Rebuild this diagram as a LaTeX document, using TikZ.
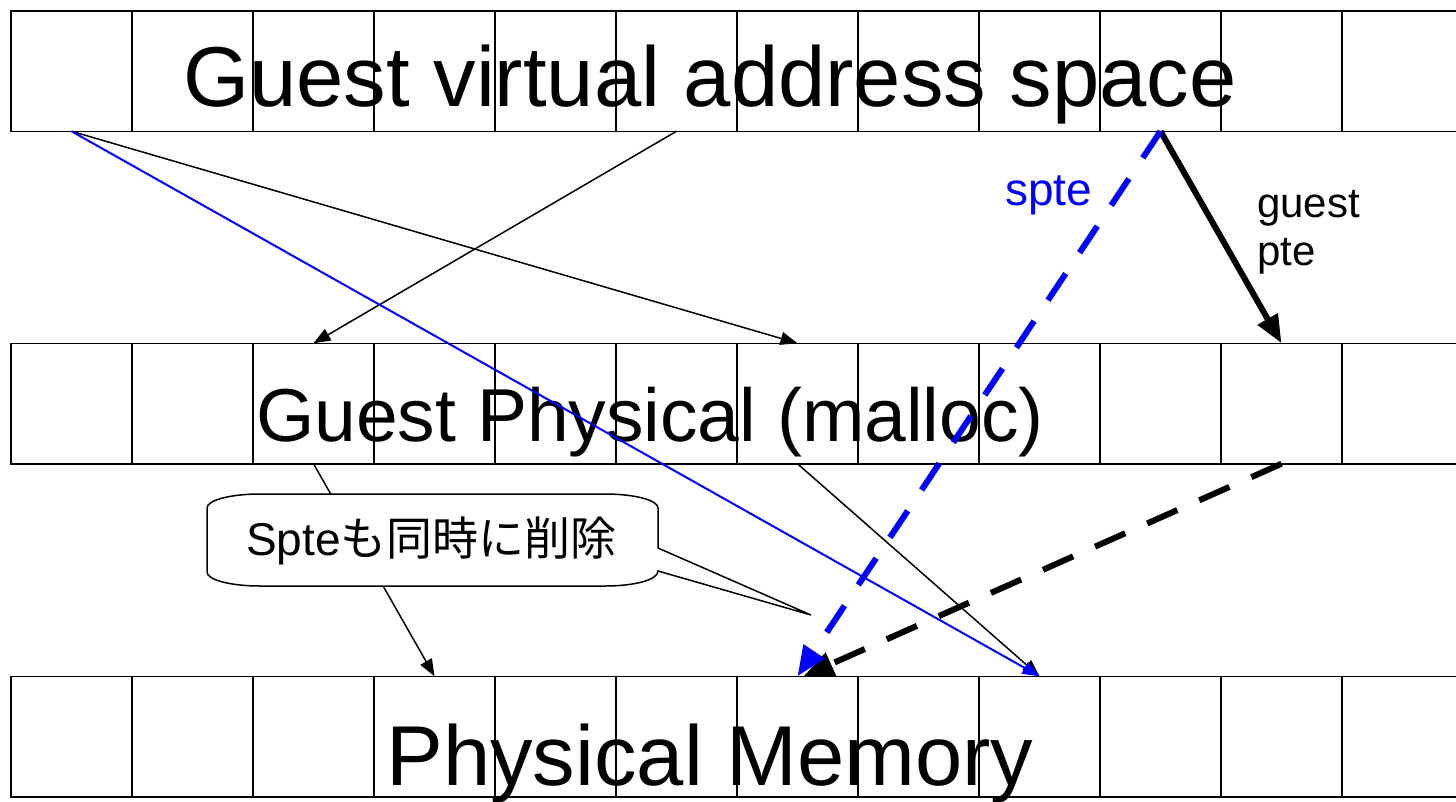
\documentclass[tikz,border=0pt]{standalone}
\usepackage{fontspec}
\setmainfont{Liberation Sans}
\newfontfamily\cjkfont{Noto Sans CJK JP}
\usetikzlibrary{arrows.meta}
\definecolor{pureblue}{RGB}{0,0,255}
\begin{document}
\begin{tikzpicture}[x=1pt,y=-1pt,
  cell/.style={draw, line width=1.5pt, minimum width=121pt, minimum height=120.5pt, inner sep=0pt, outer sep=0pt},
  rowlabel/.style={anchor=base, inner sep=0pt},
  thinarrow/.style={draw=black, line width=1.5pt, -{Triangle[length=17pt,width=13pt]}},
  bluethin/.style={draw=pureblue, line width=2pt, -{Triangle[length=17pt,width=13pt]}},
  thickarrow/.style={draw=black, line width=6pt, -{Triangle[length=28pt,width=22pt]}},
  bluedash/.style={draw=pureblue, line width=6pt, dash pattern=on 32pt off 25pt, -{Triangle[length=30pt,width=24pt]}},
  blackdash/.style={draw=black, line width=6pt, dash pattern=on 33pt off 24pt, -{Triangle[length=30pt,width=24pt]}},
  callout/.style={draw=black, fill=white, line width=1.5pt}
]
\useasboundingbox (0,0) rectangle (1456,801);
\clip (0,0) rectangle (1456,801);
% rows of cells
\foreach \i in {1,...,12} {
  \node[cell] (g\i) at ({121*\i-49.5},71) {};
  \node[cell] (p\i) at ({121*\i-49.5},403.5) {};
  \node[cell] (m\i) at ({121*\i-49.5},736.5) {};
}
% row labels
\node[rowlabel, font=\fontsize{85}{90}\selectfont] (gvas) at (710,106) {Guest virtual address space};
\node[rowlabel, font=\fontsize{75}{80}\selectfont] (gphys) at (650,441) {Guest Physical (malloc)};
\node[rowlabel, font=\fontsize{85}{90}\selectfont] (pmem) at (710,785) {Physical Memory};
% connectors
\draw[thinarrow] (g1.south) -- (p7.north);
\draw[thinarrow] (g6.south) -- (p3.north);
\draw[thickarrow] (g10.south) -- (p11.north);
\draw[thinarrow] (p3.south) -- (m4.north);
\draw[thinarrow] (p7.south) -- (m9.north);
\draw[blackdash] (p11.south) -- ([xshift=6pt]m7.north);
\draw[bluethin] (g1.south) -- (m9.north);
\draw[bluedash] (g10.south) -- (m7.north);
% labels
\node[anchor=base west, inner sep=0pt, text=pureblue, font=\fontsize{46}{52}\selectfont] (spte) at (1005,205) {spte};
\node[anchor=base west, inner sep=0pt, align=left, font=\fontsize{42}{48}\selectfont] (gpte) at (1257,265) {guest\\pte};
% callout
\coordinate (ctip) at (811,615);
\draw[callout] (207,508) .. controls (207,500) and (231,494) .. (260,494) -- (605,494)
  .. controls (634,494) and (658,500) .. (658,508) -- (658,548) -- (ctip) -- (658,571)
  .. controls (658,580) and (634,586) .. (605,586) -- (260,586)
  .. controls (231,586) and (207,580) .. (207,572) -- cycle;
\node[anchor=base, inner sep=0pt, font=\fontsize{46}{52}\selectfont] (note) at (431.5,555) {Spte{\cjkfont も同時に削除}};
\end{tikzpicture}
\end{document}
